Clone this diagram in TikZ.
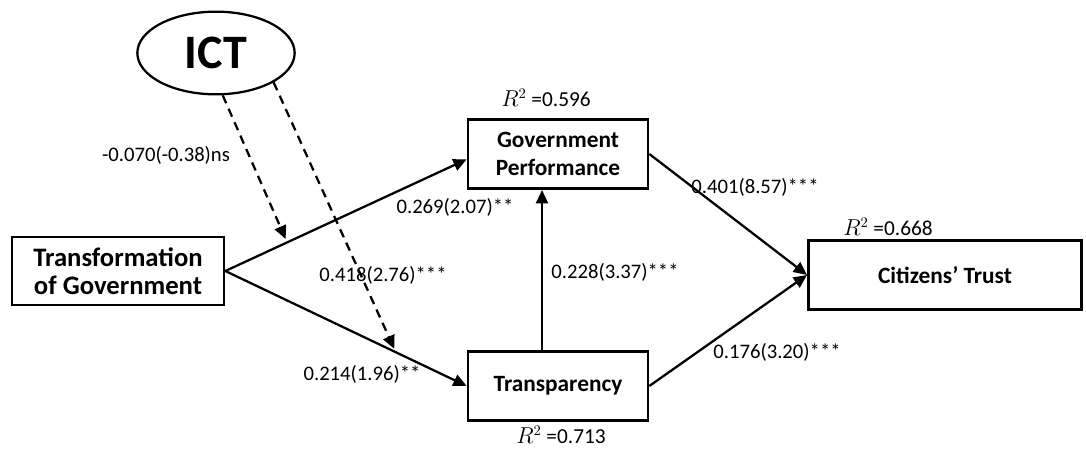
\documentclass[tikz,border=0pt]{standalone}
\usepackage{fontspec}
\setmainfont{Carlito}
\usepackage{tikz}
\usetikzlibrary{arrows.meta}
\usetikzlibrary{shapes}
\tikzset{
  box/.style={draw, line width=2pt, minimum width=135pt, minimum height=52pt, align=center, inner sep=2pt,
    font=\fontsize{17.5}{21}\selectfont\bfseries},
  coef/.style={inner sep=0pt, font=\fontsize{15.5}{18}\selectfont},
  rsq/.style={inner sep=0pt, font=\fontsize{16}{18}\selectfont},
  path/.style={line width=1.7pt, -{Triangle[length=10pt,width=9pt]}},
  modpath/.style={line width=1.7pt, dash pattern=on 6.5pt off 4.5pt, -{Triangle[length=10pt,width=9pt]}}
}
\newcommand{\coefnode}[4]{\node[coef] (#3) at ( #1 , #2 ) {#4};}
\begin{document}
\begin{tikzpicture}[x=0.75pt, y=-0.75pt]
        \useasboundingbox (0,0) rectangle (1086,450);
        % constructs
        \node[draw, ellipse, line width=1.7pt, minimum width=118pt, minimum height=62pt, inner sep=0pt,
          font=\fontsize{36}{40}\selectfont\bfseries] (ict) at (216,53) {ICT};
        \node[box, minimum width=159pt, minimum height=51pt, font=\fontsize{20}{21}\selectfont\bfseries] (tog) at (118,271) {Transformation\\of Government};
        \node[box] (gp) at (558,154) {Government\\Performance};
        \node[box] (tr) at (558,386) {Transparency};
        \node[box, minimum width=205pt] (ct) at (945,275) {Citizens’ Trust};

        % paths
        \draw[path] (tog.east) -- coordinate[pos=0.25] (hit1) ([yshift=-4pt]gp.west);
        \draw[path] (tog.east) -- coordinate[pos=0.70] (hit2) (tr.west);
        \draw[path] ([xshift=-12pt]tr.north) -- ([xshift=-12pt]gp.south);
        \draw[path] (gp.east) -- (ct.west);
        \draw[path] (tr.east) -- (ct.west);

        % moderation
        \draw[modpath] (ict.-81) -- ([yshift=3pt]hit1);
        \draw[modpath] (ict.-27) -- ([yshift=2pt]hit2);

        % coefficients
        \coefnode{166}{155}{cA}{-0.070(-0.38)ns}
        \coefnode{455}{207}{cB}{0.269(2.07)**}
        \coefnode{383}{275}{cC}{0.418(2.76)***}
        \coefnode{362}{374}{cD}{0.214(1.96)**}
        \coefnode{615}{272}{cE}{0.228(3.37)***}
        \coefnode{755}{187}{cF}{0.401(8.57)***}
        \coefnode{777}{352}{cG}{0.176(3.20)***}

        % r squared
        \node[rsq] (rgp) at (546,98) {$R^2$ =0.596};
        \node[rsq] (rct) at (888,227) {$R^2$ =0.668};
        \node[rsq] (rtr) at (561,435) {$R^2$ =0.713};
\end{tikzpicture}
\end{document}
